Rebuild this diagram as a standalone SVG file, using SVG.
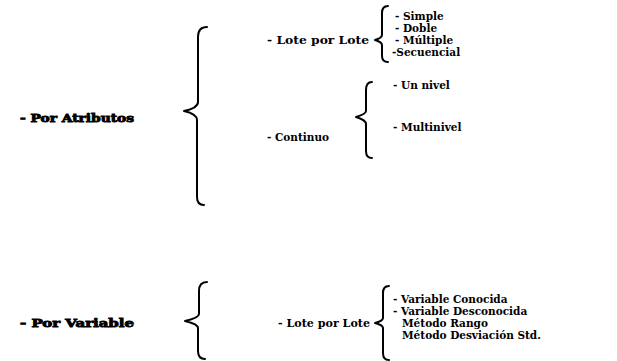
<svg xmlns="http://www.w3.org/2000/svg" width="617" height="361" viewBox="0 0 617 361">
  <style>
    text { font-family: "DejaVu Serif", "Liberation Serif", serif; font-weight: bold; font-size: 10.5px; fill: #000; }
    .heavy { font-size: 11.5px; font-weight: 900; stroke: #000; stroke-width: 0.9px; }
    .mid { font-size: 11.5px; }
    .brace { fill: none; stroke: #000; stroke-width: 2; stroke-linecap: round; stroke-linejoin: round; }
  </style>
  <rect width="617" height="361" fill="#fff"/>

  <!-- braces -->
  <g id="connectors">
    <path class="brace" d="M207 27 Q198 27 198 37 L198 102 Q198 108 184 111 Q197 114 197 120 L197 197 Q197 205 204 205"/>
    <path class="brace" d="M388 6 Q382 6 382 13 L382 35 Q382 38 375 40 Q382 42 382 45 L382 56 Q382 62 388 62"/>
    <path class="brace" d="M372 82 Q366 82 366 90 L366 111 Q366 114 356 117 Q366 120 366 124 L366 151 Q366 158 372 158"/>
    <path class="brace" d="M207 282 Q199 282 199 291 L199 314 Q199 318 185 321 Q198 324 198 328 L198 351 Q198 359 205 359"/>
    <path class="brace" d="M389 286 Q383 286 383 293 L383 318 Q383 321 375 323 Q383 325 383 328 L383 353 Q383 360 389 360"/>
  </g>

  <g id="por-atributos"><text class="heavy" x="20" y="122" textLength="114" lengthAdjust="spacingAndGlyphs">- Por Atributos</text></g>
  <g id="lote-por-lote-1"><text class="mid" x="267" y="44" textLength="102" lengthAdjust="spacingAndGlyphs">- Lote por Lote</text></g>
  <g id="tipos-muestreo">
    <text x="395" y="20">- Simple</text>
    <text x="395" y="32">- Doble</text>
    <text x="395" y="44">- Múltiple</text>
    <text x="392" y="56">-Secuencial</text>
  </g>
  <g id="continuo"><text x="267" y="141">- Continuo</text></g>
  <g id="niveles">
    <text x="393" y="89">- Un nivel</text>
    <text x="393" y="131">- Multinivel</text>
  </g>

  <g id="por-variable"><text class="heavy" x="20" y="327" textLength="114" lengthAdjust="spacingAndGlyphs">- Por Variable</text></g>
  <g id="lote-por-lote-2"><text class="mid" x="278" y="327" textLength="92" lengthAdjust="spacingAndGlyphs">- Lote por Lote</text></g>
  <g id="tipos-variable">
    <text x="393" y="303">- Variable Conocida</text>
    <text x="393" y="315">- Variable Desconocida</text>
    <text x="402" y="327">Método Rango</text>
    <text x="402" y="339">Método Desviación Std.</text>
  </g>
</svg>
